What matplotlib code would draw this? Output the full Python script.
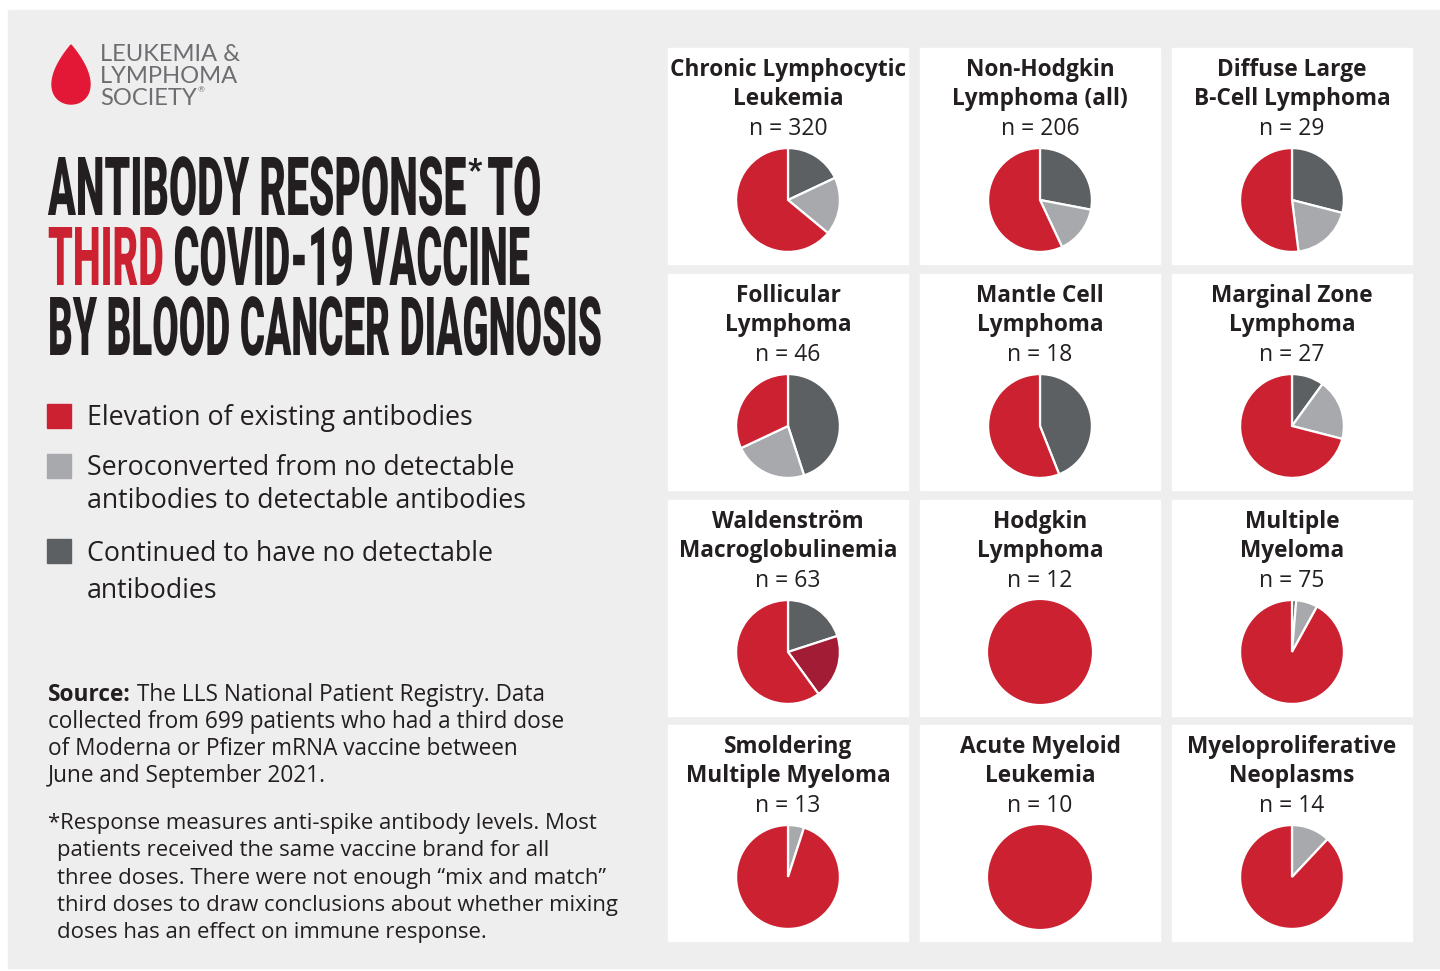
import numpy as np
import matplotlib
matplotlib.use("Agg")
import matplotlib.pyplot as plt
from matplotlib.patches import Rectangle, Polygon
from matplotlib import patheffects as pe
from matplotlib.transforms import Affine2D

W, H = 1440, 971
DPI = 100

# ---- data (percent of patients) ----
diagnoses = [
    "Chronic Lymphocytic\nLeukemia", "Non-Hodgkin\nLymphoma (all)", "Diffuse Large\nB-Cell Lymphoma",
    "Follicular\nLymphoma", "Mantle Cell\nLymphoma", "Marginal Zone\nLymphoma",
    "Waldenström\nMacroglobulinemia", "Hodgkin\nLymphoma", "Multiple\nMyeloma",
    "Smoldering\nMultiple Myeloma", "Acute Myeloid\nLeukemia", "Myeloproliferative\nNeoplasms",
]
n_patients = [320, 206, 29, 46, 18, 27, 63, 12, 75, 13, 10, 14]
no_antibodies = [18, 28, 29, 45, 44, 10, 20, 0, 1.3, 0, 0, 0]
seroconverted = [18, 15, 19, 23, 0, 19, 20, 0, 6.7, 5, 0, 12]
elevation = [64, 57, 52, 32, 56, 71, 60, 100, 92, 95, 100, 88]

legend_labels = [
    ["Elevation of existing antibodies"],
    ["Seroconverted from no detectable", "antibodies to detectable antibodies"],
    ["Continued to have no detectable", "antibodies"],
]

RED = "#CC2131"
DARK = "#5C6062"
LIGHT = "#A7A9AC"
DARKRED = "#A31C35"
INK = "#231F20"
BG = "#EEEEEE"

BODY = ["Open Sans", "DejaVu Sans"]
HEAD = ["Roboto", "DejaVu Sans"]


def fx(x):
    return x / W


def fy(y):
    return 1 - y / H


fig = plt.figure(figsize=(W / DPI, H / DPI), dpi=DPI, facecolor="white")
renderer = fig.canvas.get_renderer()

fig.patches.append(Rectangle((fx(8), fy(968)), (W - 8) / W, (968 - 10) / H,
                             transform=fig.transFigure, color=BG, zorder=0))


def text_width(txt, size, **kw):
    t = fig.text(0, 0, txt, fontsize=size, **kw)
    w = t.get_window_extent(renderer).width
    t.remove()
    return w


def fit(txt, target, **kw):
    return 20 * target / text_width(txt, 20, **kw)


class Stretch(pe.AbstractPathEffect):
    """Make glyphs taller around the baseline (gives the condensed headline look)."""

    def __init__(self, sy, y0):
        super().__init__()
        self.sy, self.y0 = sy, y0

    def draw_path(self, renderer, gc, tpath, affine, rgbFace=None):
        aff = affine + Affine2D().translate(0, -self.y0).scale(1, self.sy).translate(0, self.y0)
        renderer.draw_path(gc, tpath, aff, rgbFace)


# ---- logo ----
t = np.linspace(0, 2 * np.pi, 300)
dx = np.sin(t) * np.sin(t / 2)
dy = np.cos(t)
drop = np.column_stack([fx(71 + dx * 19 / 0.77), fy(74.5 - dy * 29.5)])
fig.patches.append(Polygon(drop, closed=True, transform=fig.transFigure,
                           color="#E31837", zorder=2))
lk = dict(family=["Lato", "DejaVu Sans"], color="#6D6E71")
lsize = fit("LEUKEMIA &", 140, **lk)
for i, line in enumerate(["LEUKEMIA &", "LYMPHOMA", "SOCIETY"]):
    tt = fig.text(fx(100), fy(61 + 22 * i), line, fontsize=lsize, va="baseline", **lk)
end = tt.get_window_extent(renderer).x1
fig.text(fx(end + 1), fy(92), "®", fontsize=6, va="baseline", **lk)

# ---- headline ----
hk = dict(family=HEAD, weight="heavy")
CAP = 58  # cap height in px


def headline(x, y, parts, size):
    sy = CAP / (0.711 * size * DPI / 72)
    for txt, col in parts:
        tt = fig.text(fx(x), fy(y), txt, fontsize=size, va="baseline", color=col,
                      path_effects=[Stretch(sy, H - y)], **hk)
        x += tt.get_window_extent(renderer).width
    return x


s1 = fit("ANTIBODY RESPONSE", 418, **hk)
end = headline(48, 215, [("ANTIBODY RESPONSE", INK)], s1)
ast = s1 * 0.75
fig.text(fx(end + 1), fy(157 + 0.711 * ast * DPI / 72), "*", fontsize=ast,
         va="baseline", color=INK, **hk)
headline(end + 21, 215, [("TO", INK)], s1)
s2 = fit("THIRD COVID-19 VACCINE", 482, **hk)
headline(48, 285, [("THIRD", RED), (" COVID-19 VACCINE", INK)], s2)
s3 = fit("BY BLOOD CANCER DIAGNOSIS", 554, **hk)
headline(48, 355, [("BY BLOOD CANCER DIAGNOSIS", INK)], s3)

# ---- legend ----
gsize = fit("Elevation of existing antibodies", 385, family=BODY)
sw_colors = [RED, LIGHT, DARK]
sw_top = [404, 454, 539]
line_y = [[425], [475, 508], [561, 598]]
for col, top, lines, ys in zip(sw_colors, sw_top, legend_labels, line_y):
    fig.patches.append(Rectangle((fx(47), fy(top + 24)), 24 / W, 24 / H,
                                 transform=fig.transFigure, color=col, zorder=2))
    for txt, yy in zip(lines, ys):
        fig.text(fx(87), fy(yy), txt, family=BODY, fontsize=gsize, color=INK, va="baseline")

# ---- source / footnote ----
ssize = fit("collected from 699 patients who had a third dose", 516, family=BODY)
sk = dict(family=BODY, fontsize=ssize, color=INK)
x = 48
for txt, wt in [("Source:", "bold"), (" The LLS National Patient Registry. Data", "normal")]:
    tt = fig.text(fx(x), fy(701), txt, va="baseline", weight=wt, **sk)
    x += tt.get_window_extent(renderer).width
for i, line in enumerate(["collected from 699 patients who had a third dose",
                          "of Moderna or Pfizer mRNA vaccine between",
                          "June and September 2021."]):
    fig.text(fx(48), fy(728 + 27 * i), line, va="baseline", **sk)
foot = ["*Response measures anti-spike antibody levels. Most",
        "patients received the same vaccine brand for all",
        "three doses. There were not enough \u201cmix and match\u201d",
        "third doses to draw conclusions about whether mixing",
        "doses has an effect on immune response."]
fsize = fit(foot[3], 558, family=BODY)
for i, line in enumerate(foot):
    fig.text(fx(48 if i == 0 else 57), fy(829 + 27.3 * i), line, va="baseline",
             family=BODY, fontsize=fsize, color=INK)

# ---- pie grid ----
col_x = [668, 920, 1172]
row_y = [48, 274, 500, 725]
CW, CH, R = 240, 216, 52
tsize = fit("Chronic Lymphocytic", 236, family=BODY, weight="bold")
nsize = fit("n = 320", 78, family=BODY)

for k, name in enumerate(diagnoses):
    x0 = col_x[k % 3]
    y0 = row_y[k // 3]
    fig.patches.append(Rectangle((fx(x0), fy(y0 + CH)), CW / W, CH / H,
                                 transform=fig.transFigure, color="white", zorder=1))
    cx = x0 + CW / 2
    for j, line in enumerate(name.split("\n")):
        fig.text(fx(cx), fy(y0 + 28 + 29 * j), line, ha="center", va="baseline",
                 family=BODY, fontsize=tsize, weight="bold", color=INK, zorder=3)
    fig.text(fx(cx), fy(y0 + 87), f"n = {n_patients[k]}", ha="center", va="baseline",
             family=BODY, fontsize=nsize, color=INK, zorder=3)

    cy = y0 + 152
    vals = [no_antibodies[k], seroconverted[k], elevation[k]]
    cols = [DARK, DARKRED if k == 6 else LIGHT, RED]
    keep = [i for i, v in enumerate(vals) if v > 0]
    ax = fig.add_axes([fx(cx - R - 2), fy(cy + R + 2), (2 * R + 4) / W, (2 * R + 4) / H])
    ax.set_zorder(5)
    ax.pie([vals[i] for i in keep], colors=[cols[i] for i in keep], startangle=90,
           counterclock=False, radius=1,
           wedgeprops={"edgecolor": "white", "linewidth": 1.6 if len(keep) > 1 else 0})
    ax.set_xlim(-1.04, 1.04)
    ax.set_ylim(-1.04, 1.04)
    ax.axis("off")

fig.savefig("out.png", dpi=DPI, facecolor="white")
